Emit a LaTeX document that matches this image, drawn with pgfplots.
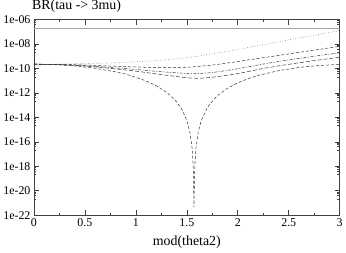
\documentclass[border=0pt]{standalone}
\usepackage{fontspec}
\setmainfont{Liberation Serif}
\usepackage{pgfplots}
\pgfplotsset{compat=1.18}
\begin{document}
\begin{tikzpicture}
\begin{axis}[
  scale only axis,
  width=308pt, height=197pt,
  xmin=0, xmax=3,
  ymode=log, ymin=1e-22, ymax=1e-6,
  xtick={0,0.5,1,1.5,2,2.5,3},
  xticklabels={0,0.5,1,1.5,2,2.5,3},
  minor xtick={0.25,0.75,1.25,1.75,2.25,2.75},
  ytick={1e-22,1e-20,1e-18,1e-16,1e-14,1e-12,1e-10,1e-8,1e-6},
  yticklabels={1e-22,1e-20,1e-18,1e-16,1e-14,1e-12,1e-10,1e-08,1e-06},
  minor ytick={2.08e-21,4.06e-21,6.04e-21,8.02e-21,
               2.08e-19,4.06e-19,6.04e-19,8.02e-19,
               2.08e-17,4.06e-17,6.04e-17,8.02e-17,
               2.08e-15,4.06e-15,6.04e-15,8.02e-15,
               2.08e-13,4.06e-13,6.04e-13,8.02e-13,
               2.08e-11,4.06e-11,6.04e-11,8.02e-11,
               2.08e-9,4.06e-9,6.04e-9,8.02e-9,
               2.08e-7,4.06e-7,6.04e-7,8.02e-7},
  tick align=inside,
  major tick length=5pt, minor tick length=2.5pt,
  every tick/.style={black!75, line width=0.6pt},
  axis line style={black!75, line width=0.8pt},
  ticklabel style={font=\fontsize{12}{14}\selectfont},
  xlabel={mod(theta2)},
  xlabel style={font=\fontsize{14}{16}\selectfont, at={(axis description cs:0.5,0)}, anchor=base, yshift=-31pt},
  clip mode=individual,
]
\addplot[gray!70, line width=0.9pt] coordinates {(0,1.9e-7) (3,1.9e-7)};
% dotted
\addplot[black!55, dotted, line width=0.6pt, smooth] coordinates {
(0,2.24e-10) (0.25,2.29e-10) (0.5,2.51e-10) (0.75,2.88e-10) (1.0,3.47e-10)
(1.25,4.79e-10) (1.5,7.59e-10) (1.75,1.58e-9) (2.0,3.55e-9) (2.25,8.91e-9)
(2.5,2.19e-8) (2.75,5.25e-8) (3.0,1.26e-7)};
% dashed
\addplot[black!80, dash pattern=on 3pt off 2pt, line width=0.5pt, smooth] coordinates {
(0,2.24e-10) (0.25,2.14e-10) (0.5,1.91e-10) (0.75,1.58e-10) (1.0,1.32e-10)
(1.25,1.17e-10) (1.5,1.26e-10) (1.75,1.91e-10) (2.0,3.72e-10) (2.25,7.59e-10)
(2.5,1.55e-9) (2.75,3.16e-9) (3.0,6.46e-9)};
% dash-dot
\addplot[black!80, dash pattern=on 3pt off 1.5pt on 1pt off 1.5pt, line width=0.5pt, smooth] coordinates {
(0,2.24e-10) (0.25,2.09e-10) (0.5,1.70e-10) (0.75,1.20e-10) (1.0,8.32e-11)
(1.25,5.37e-11) (1.5,3.98e-11) (1.6,3.89e-11) (1.75,4.68e-11) (2.0,9.55e-11)
(2.25,2.29e-10) (2.5,5.01e-10) (2.75,1.0e-9) (3.0,1.91e-9)};
% long dashed
\addplot[black!80, dash pattern=on 4pt off 2pt, line width=0.5pt, smooth] coordinates {
(0,2.24e-10) (0.25,2.04e-10) (0.5,1.58e-10) (0.75,1.02e-10) (1.0,6.03e-11)
(1.25,3.16e-11) (1.5,1.74e-11) (1.6,1.58e-11) (1.75,1.91e-11) (2.0,3.80e-11)
(2.25,1.0e-10) (2.5,2.19e-10) (2.75,4.37e-10) (3.0,8.32e-10)};
% dip curve
\addplot[black!80, dash pattern=on 3pt off 2pt, line width=0.5pt] coordinates {
(0,2.24e-10) (0.2,2.067e-10) (0.4,1.612e-10) (0.6,1.039e-10) (0.8,5.278e-11)
(0.9,3.45e-11) (1.0,1.909e-11) (1.1,9.48e-12) (1.2,3.862e-12) (1.3,1.147e-12)
(1.35,4.9e-13) (1.4,1.870e-13) (1.45,4.723e-14) (1.5,5.608e-15) (1.53,6.198e-16)
(1.55,4.189e-17) (1.56,3.043e-18) (1.565,2.528e-19) (1.5696,4.6e-22)
(1.575,7.0e-20) (1.58,1.607e-18) (1.59,3.047e-17) (1.61,5.286e-16)
(1.64,5.12e-15) (1.7,6.172e-14) (1.75,2.1e-13) (1.8,5.969e-13) (1.9,2.447e-12)
(2.0,6.718e-12) (2.1,1.47e-11) (2.2,2.687e-11) (2.4,6.623e-11) (2.6,1.208e-10)
(2.8,1.765e-10) (3.0,2.152e-10)};
\node[anchor=base west, font=\fontsize{14}{16}\selectfont, inner sep=0pt]
  at ([xshift=-2pt, yshift=10pt]rel axis cs:0,1) {BR(tau -> 3mu)};
\end{axis}
\end{tikzpicture}
\end{document}
